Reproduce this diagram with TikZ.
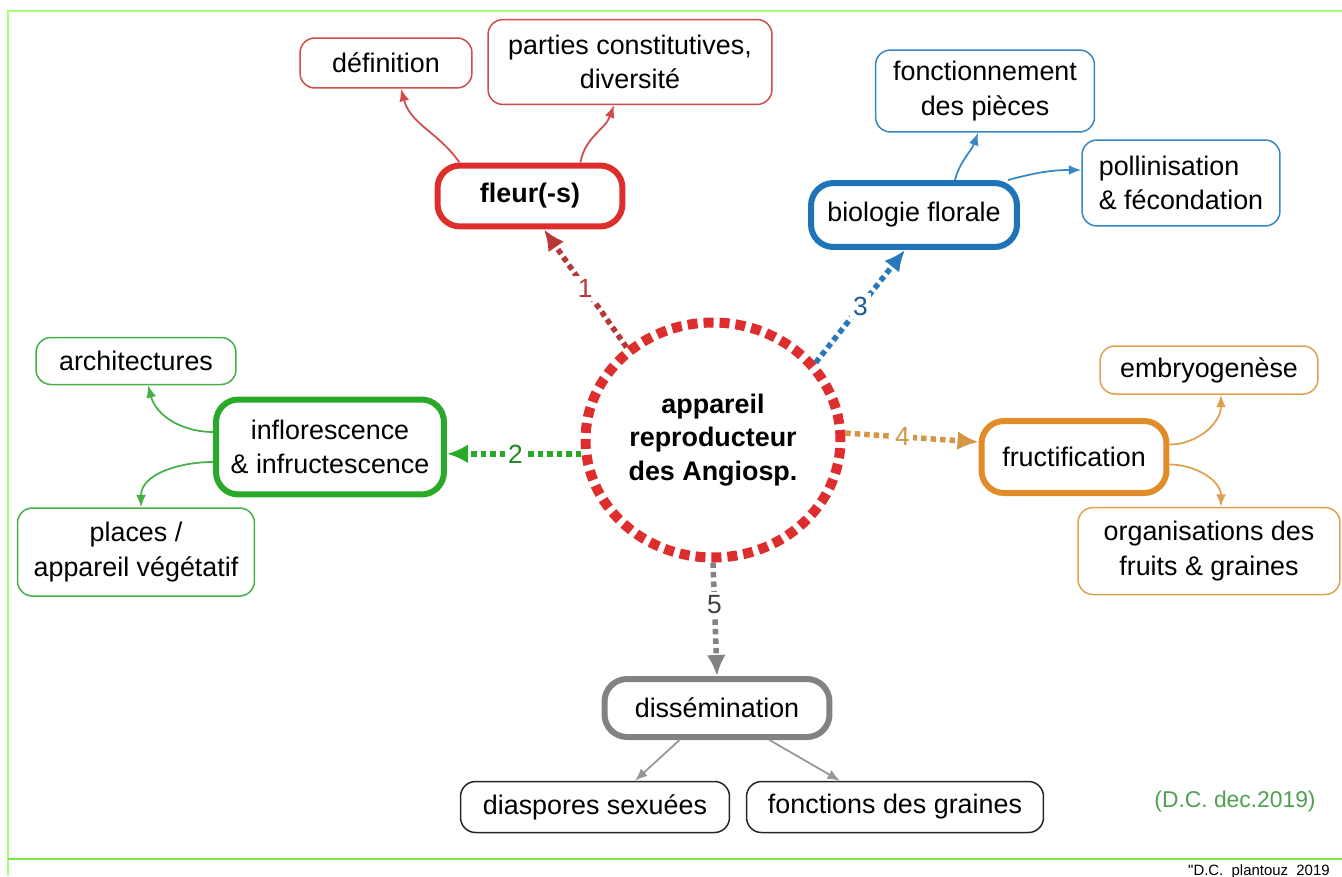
\documentclass[tikz,border=0pt]{standalone}
\usepackage{fontspec}
\setmainfont{Liberation Sans}
\usetikzlibrary{shapes.geometric,arrows.meta}
\tikzset{>=latex}
\definecolor{flred}{RGB}{221,45,45}
\definecolor{flthin}{RGB}{210,75,75}
\definecolor{fldot}{RGB}{185,55,55}
\definecolor{biblue}{RGB}{30,115,185}
\definecolor{bithin}{RGB}{55,135,195}
\definecolor{bidot}{RGB}{40,120,190}
\definecolor{ingreen}{RGB}{40,170,40}
\definecolor{inthin}{RGB}{70,175,70}
\definecolor{frorange}{RGB}{225,140,40}
\definecolor{frthin}{RGB}{225,160,80}
\definecolor{frdot}{RGB}{210,150,70}
\definecolor{digray}{RGB}{130,130,130}
\definecolor{dithin}{RGB}{150,150,150}
\definecolor{framegreen}{RGB}{170,255,120}
\definecolor{framegreenb}{RGB}{130,230,70}
\definecolor{creditgreen}{RGB}{80,160,80}

\begin{document}
\begin{tikzpicture}[x=0.02cm,y=-0.02cm]
      \tikzstyle{leafbox}=[draw, line width=0.03cm, rounded corners=0.3cm, align=center, inner sep=0pt, fill=white, font=\fontsize{15.3}{19.5}\selectfont];
      \tikzstyle{mainbox}=[leafbox, line width=0.12cm, rounded corners=0.45cm];
      \tikzstyle{link}=[-{Latex[length=0.25cm,width=0.2cm]}, line width=0.035cm];
      \tikzstyle{dotlink}=[-{Latex[length=0.42cm,width=0.38cm]}, line width=0.11cm, dash pattern=on 0.11cm off 0.08cm];
      \tikzstyle{numlabel}=[fill=white, inner sep=2pt, font=\fontsize{15}{15}\selectfont];
      \useasboundingbox (0,0) rectangle (1342,876);
      \draw[framegreen, line width=0.04cm] (1342,11) -- (8,11) -- (8,876);
      \draw[framegreenb, line width=0.03cm] (8,859) -- (1342,859);

      \node[ellipse, draw=flred, line width=0.2cm, dash pattern=on 0.2cm off 0.12cm, minimum width=5.1cm, minimum height=4.7cm, inner sep=0pt, align=center, font=\fontsize{15.3}{19}\selectfont\bfseries] (app) at (713,440) {appareil\\reproducteur\\des Angiosp.};

      \node[mainbox, draw=flred, minimum width=3.7cm, minimum height=1.22cm, font=\fontsize{15.3}{19.5}\selectfont\bfseries] (fleur) at (530,196) {fleur(-s)};
      \node[leafbox, draw=flthin, minimum width=3.44cm, minimum height=1cm] (def) at (386,63) {définition};
      \node[leafbox, draw=flthin, minimum width=5.68cm, minimum height=1.7cm] (parts) at (630,62) {parties constitutives,\\diversité};

      \node[mainbox, draw=biblue, minimum width=4.12cm, minimum height=1.28cm] (bio) at (914,215) {biologie florale};
      \node[leafbox, draw=bithin, minimum width=4.38cm, minimum height=1.64cm] (fonct) at (985,91) {fonctionnement\\des pièces};
      \node[leafbox, draw=bithin, minimum width=3.96cm, minimum height=1.72cm, align=left] (polli) at (1181,183) {pollinisation\\\& fécondation};

      \node[mainbox, draw=ingreen, minimum width=4.56cm, minimum height=1.9cm] (inflo) at (330,447) {inflorescence\\\& infructescence};
      \node[leafbox, draw=inthin, minimum width=4cm, minimum height=0.94cm] (archi) at (136,361) {architectures};
      \node[leafbox, draw=inthin, minimum width=4.74cm, minimum height=1.76cm] (places) at (136,552) {places /\\appareil végétatif};

      \node[mainbox, draw=frorange, minimum width=3.7cm, minimum height=1.44cm] (fructi) at (1074,457) {fructification};
      \node[leafbox, draw=frthin, minimum width=4.36cm, minimum height=0.96cm] (embryo) at (1209,370) {embryogenèse};
      \node[leafbox, draw=frthin, minimum width=5.24cm, minimum height=1.74cm] (orga) at (1209,551) {organisations des\\fruits \& graines};

      \node[mainbox, draw=digray, minimum width=4.5cm, minimum height=1.16cm] (dissem) at (717,708) {dissémination};
      \node[leafbox, draw=black!85, minimum width=5.38cm, minimum height=1.02cm] (diasp) at (595,807) {diaspores sexuées};
      \node[leafbox, draw=black!85, minimum width=5.94cm, minimum height=1.02cm] (graines) at (895,807) {fonctions des graines};

      \draw[dotlink, fldot] (app.133) -- ([xshift=0.28cm]fleur.south) node[numlabel, pos=0.5, text=fldot]{1};
      \draw[dotlink, ingreen] (app.186) -- (app.186 -| inflo.east) node[numlabel, pos=0.49, text=ingreen!80!black]{2};
      \draw[dotlink, bidot] (app.37) -- ([xshift=-0.18cm]bio.south) node[numlabel, pos=0.5, text=biblue!80!black]{3};
      \draw[dotlink, frdot] (app.3) -- ([yshift=0.3cm]fructi.west) node[numlabel, pos=0.43, text=frdot]{4};
      \draw[dotlink, digray] (app.south) -- (dissem.north) node[numlabel, pos=0.37, text=black!75]{5};

      \draw[link, flthin] ([xshift=0.5cm]fleur.north west) to[out=125,in=-75] ([xshift=0.3cm]def.south);
      \draw[link, flthin] ([xshift=-0.9cm]fleur.north east) to[out=80,in=-110] ([xshift=-0.32cm]parts.south);
      \draw[link, bithin] ([xshift=0.82cm]bio.north) to[out=75,in=-110] ([xshift=-0.14cm]fonct.south);
      \draw[link, bithin] ([xshift=-0.24cm]bio.north east) to[out=15,in=180] ([yshift=0.26cm]polli.west);
      \draw[link, inthin] ([yshift=0.3cm]inflo.west) to[out=180,in=-75] ([xshift=0.24cm]archi.south);
      \draw[link, inthin] ([yshift=-0.3cm]inflo.west) to[out=180,in=90] ([xshift=0.1cm]places.north);
      \draw[link, frthin] ([yshift=0.25cm]fructi.east) to[out=0,in=-90] ([xshift=0.24cm]embryo.south);
      \draw[link, frthin] ([yshift=-0.15cm]fructi.east) to[out=0,in=90] ([xshift=0.24cm]orga.north);
      \draw[link, dithin] ([xshift=-0.75cm]dissem.south) -- ([xshift=0.8cm]diasp.north);
      \draw[link, dithin] ([xshift=1.05cm]dissem.south) -- ([xshift=-1.1cm]graines.north);

      \node[text=creditgreen, font=\fontsize{13}{13}\selectfont] (credit) at (1235,802) {(D.C. dec.2019)};
      \node[anchor=base east, inner sep=0pt, font=\fontsize{8.5}{8.5}\selectfont] (source) at (1330,875) {\textquotedbl D.C.\ \ plantouz\ \ 2019};
    \end{tikzpicture}
\end{document}
